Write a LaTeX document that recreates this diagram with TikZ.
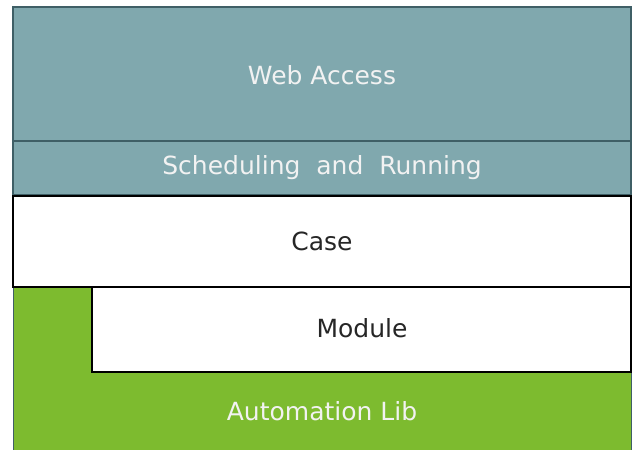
\documentclass[tikz,border=0pt]{standalone}
\usepackage{fontspec}
\setmainfont{DejaVu Sans}
\definecolor{teal1}{HTML}{80A8AE}
\definecolor{tealdark}{HTML}{3F5F66}
\definecolor{green1}{HTML}{7DBB2F}
\definecolor{textlight}{HTML}{F2F2F2}
\begin{document}
\begin{tikzpicture}[x=1pt,y=-1pt,
  tealbox/.style={fill=teal1,draw=tealdark,line width=1.8pt},
  whitebox/.style={fill=white,draw=black,line width=2.2pt},
  lighttext/.style={text=textlight,font=\fontsize{25}{28}\selectfont},
  darktext/.style={text=black!85,font=\fontsize{25}{28}\selectfont}]
\useasboundingbox (0,0) rectangle (633,450);
\fill[white] (0,0) rectangle (633,450);
% green base
\path[fill=green1,draw=tealdark,line width=1pt] (13,287) rectangle (631,452);
\draw[tealbox] (13,7) rectangle (631,141);
\draw[tealbox] (13,141) rectangle (631,195);
\draw[whitebox] (13,196) rectangle (631,287);
\draw[whitebox] (92,287) rectangle (631,372);
\node[lighttext] (web) at (322,75) {Web Access};
\node[lighttext] (sched) at (322,168) {Scheduling\ \ and\ \ Running};
\node[darktext] (case) at (322,241) {Case};
\node[darktext] (module) at (362,328) {Module};
\node[lighttext] (auto) at (322,411) {Automation Lib};
\end{tikzpicture}
\end{document}
